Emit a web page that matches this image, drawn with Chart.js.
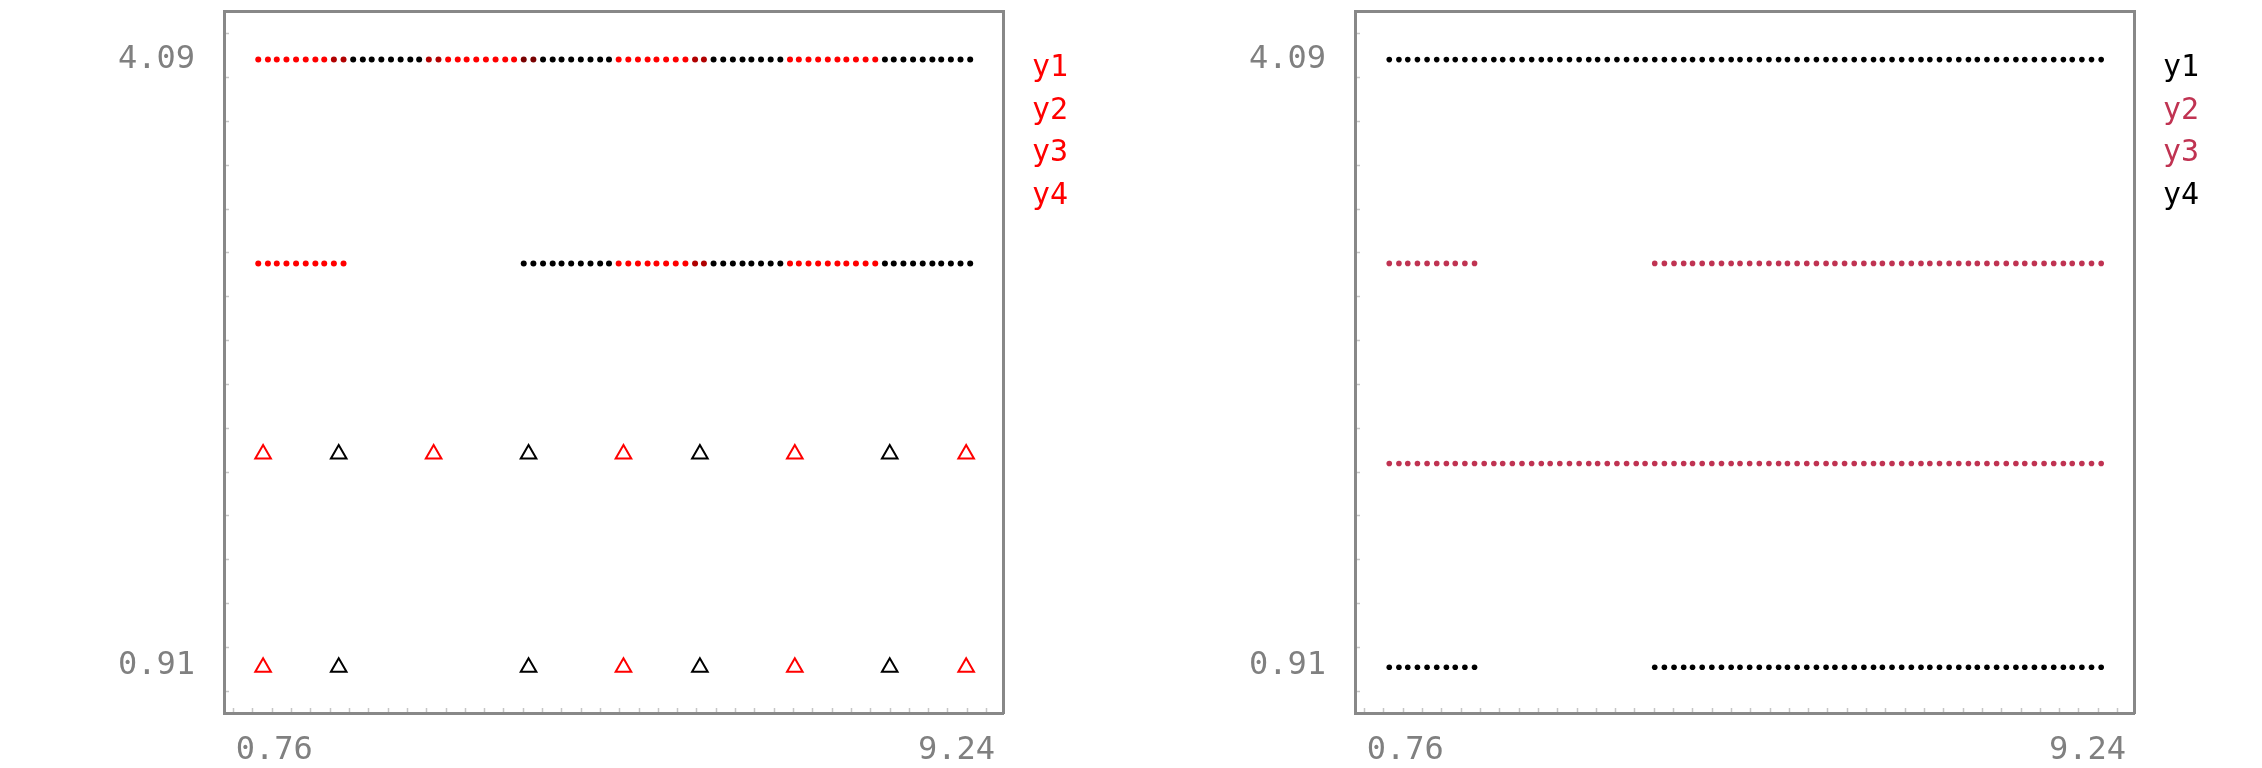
<!DOCTYPE html>
<html>
<head>
<meta charset="utf-8">
<title>y1 - y4 point rows</title>
<script src="https://cdn.jsdelivr.net/npm/chart.js@4.4.1/dist/chart.umd.min.js"></script>
<style>
  html, body { margin: 0; padding: 0; background: #ffffff; }
  .row { display: flex; width: 2262px; height: 768px; }
  .panel { position: relative; width: 1131px; height: 768px; }
</style>
</head>
<body>
<div class="row">
  <div class="panel"><canvas id="leftChart"></canvas></div>
  <div class="panel"><canvas id="rightChart"></canvas></div>
</div>
<script>
// ---- data ----
// x of every dot in the dotted rows (same in both panels)
const xDots = [0.56, 0.68, 0.79, 0.91, 1.03, 1.15, 1.27, 1.38, 1.50, 1.62,
               1.74, 1.86, 1.97, 2.09, 2.21, 2.33, 2.45, 2.56, 2.68, 2.80,
               2.92, 3.04, 3.15, 3.27, 3.39, 3.51, 3.63, 3.74, 3.86, 3.98,
               4.10, 4.22, 4.33, 4.45, 4.57, 4.69, 4.81, 4.92, 5.04, 5.16,
               5.28, 5.40, 5.51, 5.63, 5.75, 5.87, 5.99, 6.10, 6.22, 6.34,
               6.46, 6.58, 6.69, 6.81, 6.93, 7.05, 7.17, 7.28, 7.40, 7.52,
               7.64, 7.76, 7.87, 7.99, 8.11, 8.23, 8.35, 8.46, 8.58, 8.70,
               8.82, 8.94, 9.05, 9.17, 9.29, 9.41];

const y1 = [4.09, 4.09, 4.09, 4.09, 4.09, 4.09, 4.09, 4.09, 4.09, 4.09,
            4.09, 4.09, 4.09, 4.09, 4.09, 4.09, 4.09, 4.09, 4.09, 4.09,
            4.09, 4.09, 4.09, 4.09, 4.09, 4.09, 4.09, 4.09, 4.09, 4.09,
            4.09, 4.09, 4.09, 4.09, 4.09, 4.09, 4.09, 4.09, 4.09, 4.09,
            4.09, 4.09, 4.09, 4.09, 4.09, 4.09, 4.09, 4.09, 4.09, 4.09,
            4.09, 4.09, 4.09, 4.09, 4.09, 4.09, 4.09, 4.09, 4.09, 4.09,
            4.09, 4.09, 4.09, 4.09, 4.09, 4.09, 4.09, 4.09, 4.09, 4.09,
            4.09, 4.09, 4.09, 4.09, 4.09, 4.09];

const y2 = [3.02, 3.02, 3.02, 3.02, 3.02, 3.02, 3.02, 3.02, 3.02, 3.02,
            null, null, null, null, null, null, null, null, null, null,
            null, null, null, null, null, null, null, null, 3.02, 3.02,
            3.02, 3.02, 3.02, 3.02, 3.02, 3.02, 3.02, 3.02, 3.02, 3.02,
            3.02, 3.02, 3.02, 3.02, 3.02, 3.02, 3.02, 3.02, 3.02, 3.02,
            3.02, 3.02, 3.02, 3.02, 3.02, 3.02, 3.02, 3.02, 3.02, 3.02,
            3.02, 3.02, 3.02, 3.02, 3.02, 3.02, 3.02, 3.02, 3.02, 3.02,
            3.02, 3.02, 3.02, 3.02, 3.02, 3.02];

// right panel, rows 3 and 4 are dots
const y3 = [1.97, 1.97, 1.97, 1.97, 1.97, 1.97, 1.97, 1.97, 1.97, 1.97,
            1.97, 1.97, 1.97, 1.97, 1.97, 1.97, 1.97, 1.97, 1.97, 1.97,
            1.97, 1.97, 1.97, 1.97, 1.97, 1.97, 1.97, 1.97, 1.97, 1.97,
            1.97, 1.97, 1.97, 1.97, 1.97, 1.97, 1.97, 1.97, 1.97, 1.97,
            1.97, 1.97, 1.97, 1.97, 1.97, 1.97, 1.97, 1.97, 1.97, 1.97,
            1.97, 1.97, 1.97, 1.97, 1.97, 1.97, 1.97, 1.97, 1.97, 1.97,
            1.97, 1.97, 1.97, 1.97, 1.97, 1.97, 1.97, 1.97, 1.97, 1.97,
            1.97, 1.97, 1.97, 1.97, 1.97, 1.97];

const y4 = [0.90, 0.90, 0.90, 0.90, 0.90, 0.90, 0.90, 0.90, 0.90, 0.90,
            null, null, null, null, null, null, null, null, null, null,
            null, null, null, null, null, null, null, null, 0.90, 0.90,
            0.90, 0.90, 0.90, 0.90, 0.90, 0.90, 0.90, 0.90, 0.90, 0.90,
            0.90, 0.90, 0.90, 0.90, 0.90, 0.90, 0.90, 0.90, 0.90, 0.90,
            0.90, 0.90, 0.90, 0.90, 0.90, 0.90, 0.90, 0.90, 0.90, 0.90,
            0.90, 0.90, 0.90, 0.90, 0.90, 0.90, 0.90, 0.90, 0.90, 0.90,
            0.90, 0.90, 0.90, 0.90, 0.90, 0.90];

// left panel, rows 3 and 4 are triangles
const xTri = [0.62, 1.56, 2.74, 3.92, 5.10, 6.05, 7.23, 8.41, 9.36];
const y3Tri = [2.02, 2.02, 2.02, 2.02, 2.02, 2.02, 2.02, 2.02, 2.02];
const y4Tri = [0.90, 0.90, null, 0.90, 0.90, 0.90, 0.90, 0.90, 0.90];

const seriesNames = ['y1', 'y2', 'y3', 'y4'];
const xTickLabels = [0.76, 9.24];
const yTickLabels = [0.91, 4.09];

// ---- styles ----
const MONO = '"DejaVu Sans Mono", "Liberation Mono", monospace';
const RED = '#ff0000';
const DARK_RED = '#b00000';
const DARKER_RED = '#780000';
const BLACK = '#000000';
const CRIMSON = '#c03352';
const FRAME = '#888888';
const TICK_TEXT = '#808080';
const MINOR = '#c6c6c6';

const X_MIN = 0.134, X_MAX = 9.818;
const Y_MIN = 0.66, Y_MAX = 4.345;
const AREA_LEFT = 224;
const AREA_RIGHT = 1003;
const PAD_TOP = 11;
const AXIS_BOTTOM = 55;
const PAD_RIGHT = 53;
const TICK_FONT = 32;
const LEGEND_FONT = 30;

// per dot colour codes of the left panel (r red, d dark red, D darker red, k black)
const row1Codes = 'rrrrrrrrddkkkkkkkkddrrrrrrrrDDkkkkkkkkrrrrrrrrddkkkkkkkkrrrrrrrrrrkkkkkkkkkk';
const row2Codes = 'rrrrrrrrrr------------------kkkkkkkkkkrrrrrrrrddkkkkkkkkrrrrrrrrrrkkkkkkkkkk';
const triCodes = 'rkrkrkrkr';

function codeColor(c) {
    if (c === 'r') return RED;
    if (c === 'd') return DARK_RED;
    if (c === 'D') return DARKER_RED;
    return BLACK;
}

function points(xs, ys) {
    return xs.map((x, i) => ({ x: x, y: ys[i] }));
}

// little inward frame ticks (decoration only)
function minorTicks(min, max, step) {
    const out = [];
    for (let v = min + step / 2; v < max; v += step) {
        out.push({ value: v });
    }
    return out;
}

function withLabels(minor, labels) {
    return minor.concat(labels.map(v => ({ value: v, label: true })))
        .sort((a, b) => a.value - b.value);
}

// the tick labels must not push the plot area around
function noPadding(s) {
    s.paddingTop = 0;
    s.paddingBottom = 0;
    s.paddingLeft = 0;
    s.paddingRight = 0;
}

const frameGrid = {
    drawOnChartArea: false,
    drawTicks: true,
    tickLength: -5,
    tickWidth: 1.5,
    tickColor: ctx => (ctx.tick && ctx.tick.label) ? 'rgba(0,0,0,0)' : MINOR
};
const frameBorder = { display: true, color: FRAME, width: 3 };

function makeChart(canvasId, datasets, legendColors) {
    const ctx = document.getElementById(canvasId).getContext('2d');
    return new Chart(ctx, {
        type: 'scatter',
        data: { datasets: datasets },
        options: {
            responsive: true,
            maintainAspectRatio: false,
            animation: false,
            events: [],
            layout: { padding: { top: PAD_TOP, right: PAD_RIGHT, bottom: 0, left: 0 } },
            scales: {
                x: {
                    type: 'linear', position: 'bottom', min: X_MIN, max: X_MAX,
                    afterBuildTicks: s => { s.ticks = withLabels(minorTicks(X_MIN, X_MAX, 0.24), xTickLabels); },
                    afterFit: s => { s.height = AXIS_BOTTOM; noPadding(s); },
                    border: frameBorder,
                    grid: frameGrid,
                    ticks: {
                        autoSkip: false, maxRotation: 0, padding: 23,
                        color: TICK_TEXT, font: { family: MONO, size: TICK_FONT },
                        callback: (v, i, ticks) => ticks[i].label ? v.toFixed(2) : ''
                    }
                },
                y: {
                    type: 'linear', position: 'left', min: Y_MIN, max: Y_MAX,
                    afterBuildTicks: s => { s.ticks = withLabels(minorTicks(Y_MIN, Y_MAX, 0.23), yTickLabels); },
                    afterFit: s => { s.width = AREA_LEFT; noPadding(s); },
                    border: frameBorder,
                    grid: frameGrid,
                    ticks: {
                        autoSkip: false, padding: 34,
                        color: TICK_TEXT, font: { family: MONO, size: TICK_FONT },
                        callback: (v, i, ticks) => ticks[i].label ? v.toFixed(2) : ''
                    }
                },
                xTop: {
                    type: 'linear', position: 'top', display: true, min: X_MIN, max: X_MAX,
                    afterBuildTicks: s => { s.ticks = minorTicks(X_MIN, X_MAX, 0.24); },
                    afterFit: s => { s.height = 0; noPadding(s); },
                    border: frameBorder,
                    grid: frameGrid,
                    ticks: { display: false }
                },
                yRight: {
                    type: 'linear', position: 'right', display: true, min: Y_MIN, max: Y_MAX,
                    afterBuildTicks: s => { s.ticks = minorTicks(Y_MIN, Y_MAX, 0.23); },
                    afterFit: s => {
                        const lw = s.chart.legend ? s.chart.legend.width : 74;
                        s.width = Math.max(0, s.chart.width - PAD_RIGHT - AREA_RIGHT - lw);
                        noPadding(s);
                    },
                    border: frameBorder,
                    grid: frameGrid,
                    ticks: { display: false }
                }
            },
            plugins: {
                tooltip: { enabled: false },
                legend: {
                    position: 'right',
                    align: 'start',
                    title: { display: true, text: ' ', padding: 0, font: { size: 30, lineHeight: 1 } },
                    labels: {
                        boxWidth: 0,
                        padding: 12.5,
                        font: { family: MONO, size: LEGEND_FONT },
                        generateLabels: () => seriesNames.map((name, i) => ({
                            text: name,
                            fontColor: legendColors[i],
                            fillStyle: 'rgba(0,0,0,0)',
                            strokeStyle: 'rgba(0,0,0,0)',
                            lineWidth: 0,
                            hidden: false,
                            datasetIndex: i
                        }))
                    }
                }
            }
        }
    });
}

function dotSet(label, ys, colors, radius) {
    return {
        label: label,
        data: points(xDots, ys),
        showLine: false,
        pointRadius: radius,
        pointBorderWidth: 0,
        pointBackgroundColor: colors,
        pointBorderColor: colors
    };
}

function triSet(label, ys, colors) {
    return {
        label: label,
        data: points(xTri, ys),
        showLine: false,
        pointStyle: 'triangle',
        pointRadius: 9,
        pointBorderWidth: 2,
        pointBackgroundColor: 'rgba(0,0,0,0)',
        pointBorderColor: colors
    };
}

document.addEventListener('DOMContentLoaded', function () {
    const row1Colors = row1Codes.split('').map(codeColor);
    const row2Colors = row2Codes.split('').map(codeColor);
    const triColors = triCodes.split('').map(codeColor);

    makeChart('leftChart', [
        dotSet('y1', y1, row1Colors, 3),
        dotSet('y2', y2, row2Colors, 3),
        triSet('y3', y3Tri, triColors),
        triSet('y4', y4Tri, triColors)
    ], [RED, RED, RED, RED]);

    makeChart('rightChart', [
        dotSet('y1', y1, BLACK, 2.8),
        dotSet('y2', y2, CRIMSON, 2.8),
        dotSet('y3', y3, CRIMSON, 2.8),
        dotSet('y4', y4, BLACK, 2.8)
    ], [BLACK, CRIMSON, CRIMSON, BLACK]);
});
</script>
</body>
</html>
